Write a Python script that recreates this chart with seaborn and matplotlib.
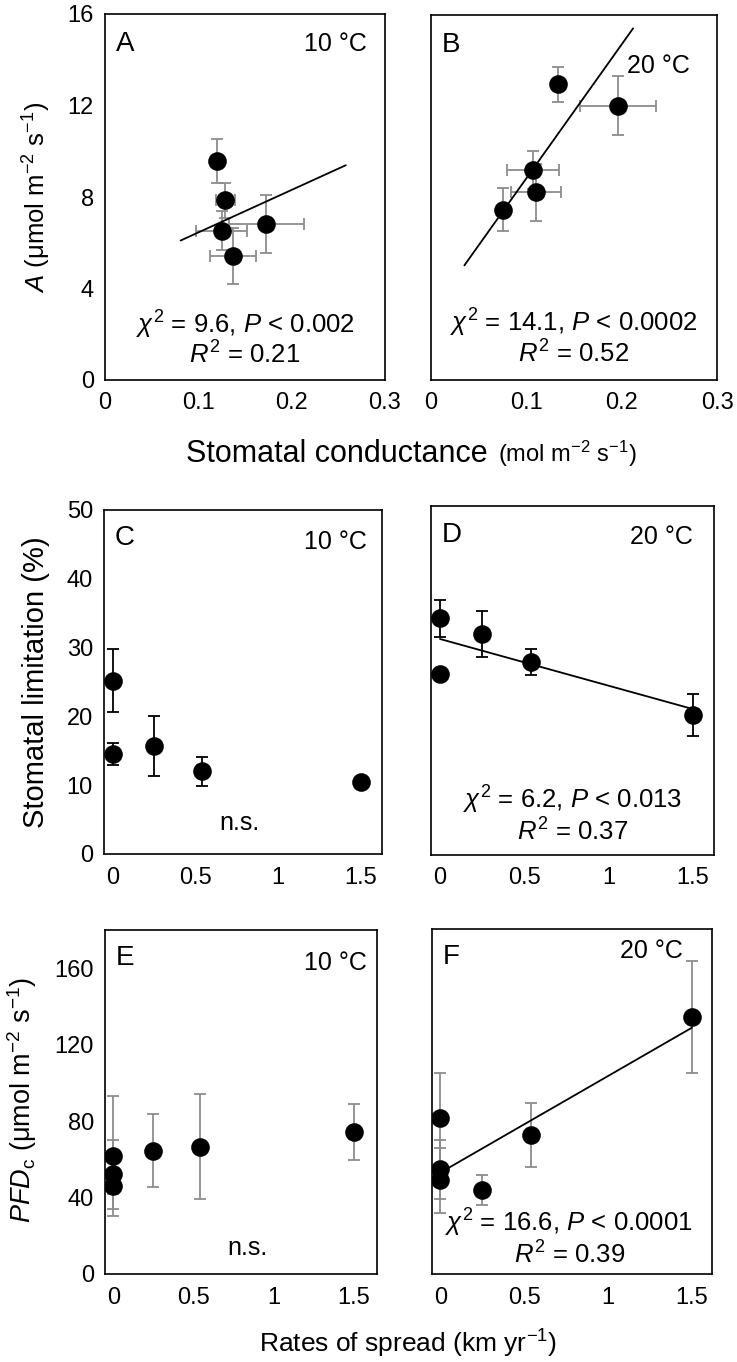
import numpy as np
import matplotlib
matplotlib.use("Agg")
import matplotlib.pyplot as plt
import seaborn as sns

# --- A / B: stomatal conductance (mol m-2 s-1) vs A (umol m-2 s-1)
gs_10 = [0.120, 0.129, 0.125, 0.173, 0.137]
gs_10_se = [0.0, 0.010, 0.027, 0.040, 0.025]
a_10 = [9.57, 7.85, 6.53, 6.82, 5.42]
a_10_se = [0.97, 0.75, 0.85, 1.27, 1.24]
fit_a_10 = (4.59, 18.6)          # intercept, slope
fit_a_10_x = (0.081, 0.258)

gs_20 = [0.133, 0.196, 0.107, 0.110, 0.075]
gs_20_se = [0.005, 0.040, 0.027, 0.026, 0.0]
a_20 = [12.97, 12.02, 9.21, 8.23, 7.46]
a_20_se = [0.77, 1.30, 0.85, 1.24, 0.95]
fit_a_20 = (2.97, 58.7)
fit_a_20_x = (0.035, 0.212)

# --- C / D: rates of spread (km yr-1) vs stomatal limitation (%)
spread_l10 = [0, 0, 0.25, 0.54, 1.5]
lim_10 = [25.2, 14.6, 15.7, 12.0, 10.4]
lim_10_se = [4.6, 1.6, 4.4, 2.1, 0.0]

spread_l20 = [0, 0, 0.25, 0.54, 1.5]
lim_20 = [33.9, 26.0, 31.6, 27.7, 20.1]
lim_20_se = [2.6, 0.0, 3.3, 1.85, 3.0]
fit_lim_20 = (30.95, -6.7)
fit_lim_20_x = (0.0, 1.5)

# --- E / F: rates of spread vs PFDc (umol m-2 s-1)
spread_p10 = [0, 0, 0, 0.25, 0.54, 1.5]
pfd_10 = [61.7, 52.1, 46.0, 64.5, 66.6, 74.1]
pfd_10_se = [31.4, 18.2, 4.0, 19.1, 27.6, 14.7]

spread_p20 = [0, 0, 0, 0.25, 0.54, 1.5]
pfd_20 = [81.2, 54.6, 49.0, 43.8, 72.5, 133.9]
pfd_20_se = [23.8, 15.3, 17.0, 7.8, 16.5, 29.2]
fit_pfd_20 = (52.9, 50.4)
fit_pfd_20_x = (0.0, 1.5)

sns.set_style("white")
plt.rcParams["font.family"] = ["Liberation Sans", "DejaVu Sans"]
plt.rcParams["mathtext.fontset"] = "custom"
plt.rcParams["mathtext.rm"] = "Liberation Sans"
plt.rcParams["mathtext.it"] = "Liberation Sans:italic"
plt.rcParams["mathtext.bf"] = "Liberation Sans:bold"
plt.rcParams["text.color"] = "black"
plt.rcParams["xtick.color"] = "black"
plt.rcParams["ytick.color"] = "black"
plt.rcParams["axes.labelcolor"] = "black"

W, H = 737, 1362
fig = plt.figure(figsize=(W / 100, H / 100), dpi=100)


def rect(l, r, t, b):
    return [l / W, 1 - b / H, (r - l) / W, (b - t) / H]


def draw_panel(ax, x, y, yerr, xerr=None, ecolor="#8c8c8c", fit=None, fit_x=None):
    ax.errorbar(x, y, yerr=yerr, xerr=xerr, fmt="none", ecolor=ecolor,
                elinewidth=1.3, capsize=4, capthick=1.3, zorder=2)
    if fit is not None:
        fx = np.array(fit_x)
        sns.lineplot(x=fx, y=fit[0] + fit[1] * fx, ax=ax, color="black", lw=1.3, zorder=2.5)
    sns.scatterplot(x=x, y=y, ax=ax, s=180, color="black", edgecolor="black",
                    linewidth=0, zorder=3, legend=False)
    for sp in ax.spines.values():
        sp.set_visible(True)
        sp.set_color("black")
        sp.set_linewidth(1.2)
    ax.tick_params(length=0, labelsize=17, colors="black")
    ax.tick_params(axis="x", pad=9)
    ax.tick_params(axis="y", pad=8)
    ax.set_xlabel("")
    ax.set_ylabel("")


def corner(ax, letter, temp, temp_xy, temp_ha="right"):
    ax.text(0.038, 0.918, letter, transform=ax.transAxes, fontsize=20, ha="left", va="center")
    ax.text(temp_xy[0], temp_xy[1], temp, transform=ax.transAxes, fontsize=18,
            ha=temp_ha, va="center")


def stats(ax, chi, p, r2, x, y1, y2):
    ax.text(x, y1, r"$\chi^2$" + f" = {chi}, " + r"$P$" + f" < {p}", transform=ax.transAxes,
            fontsize=18.5, ha="center", va="center")
    ax.text(x, y2, r"$R^2$" + f" = {r2}", transform=ax.transAxes,
            fontsize=18.5, ha="center", va="center")


# A
axA = fig.add_axes(rect(105, 385, 14, 380))
draw_panel(axA, gs_10, a_10, a_10_se, gs_10_se, fit=fit_a_10, fit_x=fit_a_10_x)
axA.set_xlim(0, 0.3)
axA.set_ylim(0, 16)
axA.set_xticks([0, 0.1, 0.2, 0.3], ["0", "0.1", "0.2", "0.3"])
axA.set_yticks([0, 4, 8, 12, 16])
corner(axA, "A", "10 °C", (0.935, 0.918))
stats(axA, "9.6", "0.002", "0.21", 0.5, 0.15, 0.068)

# B
axB = fig.add_axes(rect(431, 717, 15, 380))
draw_panel(axB, gs_20, a_20, a_20_se, gs_20_se, fit=fit_a_20, fit_x=fit_a_20_x)
axB.set_xlim(0, 0.3)
axB.set_ylim(0, 16)
axB.set_xticks([0, 0.1, 0.2, 0.3], ["0", "0.1", "0.2", "0.3"])
axB.set_yticks([0, 4, 8, 12, 16], [])
corner(axB, "B", "20 °C", (0.684, 0.86), temp_ha="left")
stats(axB, "14.1", "0.0002", "0.52", 0.5, 0.156, 0.071)

fig.text(488 / W, 1 - 454 / H, "Stomatal conductance", fontsize=22, ha="right", va="center")
fig.text(498 / W, 1 - 454 / H, "(mol m$^{-2}$ s$^{-1}$)", fontsize=17, ha="left", va="center")
fig.text(37 / W, 1 - 197 / H, "$A$ (μmol m$^{-2}$ s$^{-1}$)", fontsize=18.5,
         rotation=90, ha="center", va="center")

# C
axC = fig.add_axes(rect(104, 382, 510, 854))
draw_panel(axC, spread_l10, lim_10, lim_10_se, ecolor="black")
axC.set_xlim(-0.054, 1.627)
axC.set_ylim(0, 50)
axC.set_xticks([0, 0.5, 1, 1.5], ["0", "0.5", "1", "1.5"])
axC.set_yticks([0, 10, 20, 30, 40, 50])
corner(axC, "C", "10 °C", (0.945, 0.908))
axC.text(0.486, 0.091, "n.s.", transform=axC.transAxes, fontsize=18, ha="center", va="center")
fig.text(36 / W, 1 - 682 / H, "Stomatal limitation (%)", fontsize=21,
         rotation=90, ha="center", va="center")

# D
axD = fig.add_axes(rect(431, 714, 506, 855))
draw_panel(axD, spread_l20, lim_20, lim_20_se, ecolor="black", fit=fit_lim_20, fit_x=fit_lim_20_x)
axD.set_xlim(-0.053, 1.624)
axD.set_ylim(0, 50)
axD.set_xticks([0, 0.5, 1, 1.5], ["0", "0.5", "1", "1.5"])
axD.set_yticks([0, 10, 20, 30, 40, 50], [])
corner(axD, "D", "20 °C", (0.925, 0.912))
stats(axD, "6.2", "0.013", "0.37", 0.5, 0.158, 0.067)

# E
axE = fig.add_axes(rect(105, 377, 930, 1274))
draw_panel(axE, spread_p10, pfd_10, pfd_10_se)
axE.set_xlim(-0.052, 1.644)
axE.set_ylim(0, 180)
axE.set_xticks([0, 0.5, 1, 1.5], ["0", "0.5", "1", "1.5"])
axE.set_yticks([0, 40, 80, 120, 160])
corner(axE, "E", "10 °C", (0.962, 0.904))
axE.text(0.523, 0.075, "n.s.", transform=axE.transAxes, fontsize=18, ha="center", va="center")
fig.text(22 / W, 1 - 1100 / H, "$PFD_\\mathrm{c}$ (μmol m$^{-2}$ s$^{-1}$)", fontsize=19.5,
         rotation=90, ha="center", va="center")

# F
axF = fig.add_axes(rect(432, 712, 929, 1274))
draw_panel(axF, spread_p20, pfd_20, pfd_20_se, fit=fit_pfd_20, fit_x=fit_pfd_20_x)
axF.set_xlim(-0.05, 1.62)
axF.set_ylim(0, 180)
axF.set_xticks([0, 0.5, 1, 1.5], ["0", "0.5", "1", "1.5"])
axF.set_yticks([0, 40, 80, 120, 160], [])
corner(axF, "F", "20 °C", (0.896, 0.935))
stats(axF, "16.6", "0.0001", "0.39", 0.49, 0.147, 0.055)

fig.text(408 / W, 1 - 1344 / H, "Rates of spread (km yr$^{-1}$)", fontsize=19,
         ha="center", va="center")

fig.savefig("out.png", dpi=100)
